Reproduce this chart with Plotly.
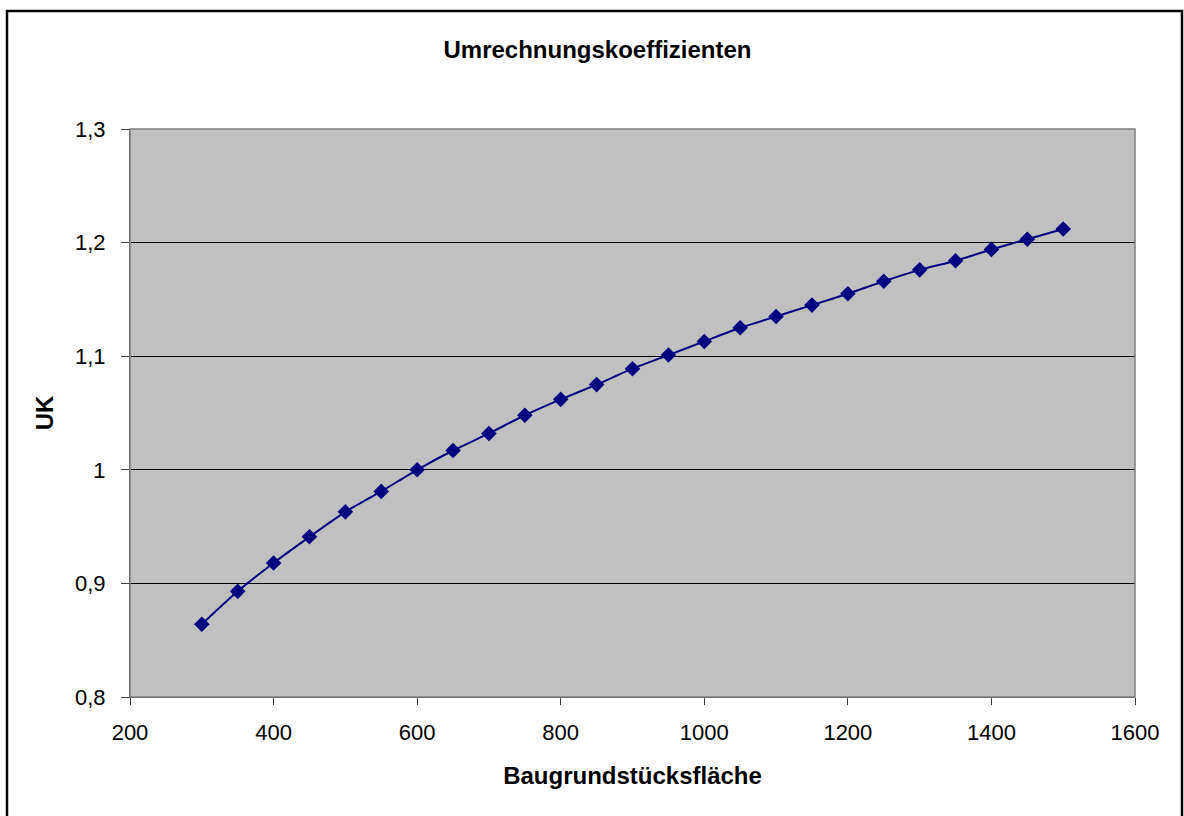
import plotly.graph_objects as go

flaeche = [300, 350, 400, 450, 500, 550, 600, 650, 700, 750, 800, 850, 900,
           950, 1000, 1050, 1100, 1150, 1200, 1250, 1300, 1350, 1400, 1450, 1500]
uk = [0.864, 0.893, 0.918, 0.941, 0.963, 0.981, 1.000, 1.017, 1.032, 1.048,
      1.062, 1.075, 1.089, 1.101, 1.113, 1.125, 1.135, 1.145, 1.155, 1.166,
      1.176, 1.184, 1.194, 1.203, 1.212]

y_tickvals = [0.8, 0.9, 1.0, 1.1, 1.2, 1.3]
y_ticktext = ["0,8", "0,9", "1", "1,1", "1,2", "1,3"]
x_tickvals = [200, 400, 600, 800, 1000, 1200, 1400, 1600]
x_ticktext = ["200", "400", "600", "800", "1000", "1200", "1400", "1600"]

FONT = "Liberation Sans, Arial, sans-serif"

fig = go.Figure()
fig.add_trace(go.Scatter(
    x=flaeche, y=uk, mode="lines+markers",
    line=dict(color="#000080", width=2, shape="spline", smoothing=0.6),
    marker=dict(symbol="diamond", size=12, color="#000080"),
    showlegend=False,
))

W, H = 1184, 816
L, R, T, B = 130, 49, 129, 119
pw, ph = W - L - R, H - T - B

def px(xp):
    return (xp - L) / pw

def py(yp):
    return (H - B - yp) / ph

fig.update_layout(
    width=W, height=H,
    margin=dict(l=L, r=R, t=T, b=B),
    paper_bgcolor="white",
    plot_bgcolor="#c0c0c0",
    font=dict(family=FONT, color="black", size=22),
    title=dict(text="<b>Umrechnungskoeffizienten</b>", x=(437 + 758) / 2 / W,
               xanchor="center", y=1 - 50 / H, yanchor="middle",
               font=dict(size=24, family=FONT)),
    xaxis=dict(
        range=[200, 1600], tickvals=x_tickvals, ticktext=x_ticktext,
        showgrid=False, zeroline=False,
        showline=True, linecolor="#404040", linewidth=1,
        ticks="outside", ticklen=7, tickcolor="#404040",
        ticklabelstandoff=9,
        tickfont=dict(size=22),
        title=dict(text="<b>Baugrundstücksfläche</b>", standoff=22,
                   font=dict(size=24)),
    ),
    yaxis=dict(
        range=[0.8, 1.3], tickvals=y_tickvals, ticktext=y_ticktext,
        showgrid=True, gridcolor="black", gridwidth=1, zeroline=False,
        showline=True, linecolor="#404040", linewidth=1,
        ticks="outside", ticklen=8, tickcolor="#404040",
        ticklabelstandoff=11,
        tickfont=dict(size=22),
        title=dict(text="<b>UK</b>", standoff=14, font=dict(size=24)),
    ),
    shapes=[
        dict(type="rect", xref="paper", yref="paper", x0=0, x1=1, y0=0, y1=1,
             line=dict(color="#808080", width=1.5), layer="above"),
        dict(type="rect", xref="paper", yref="paper",
             x0=px(7), x1=px(1182), y0=py(11), y1=py(830),
             line=dict(color="black", width=2.5)),
    ],
)

fig.write_html(
    "out.html",
    config={"displayModeBar": False},
    post_script="document.body.style.margin='0';document.body.style.padding='0';",
)
